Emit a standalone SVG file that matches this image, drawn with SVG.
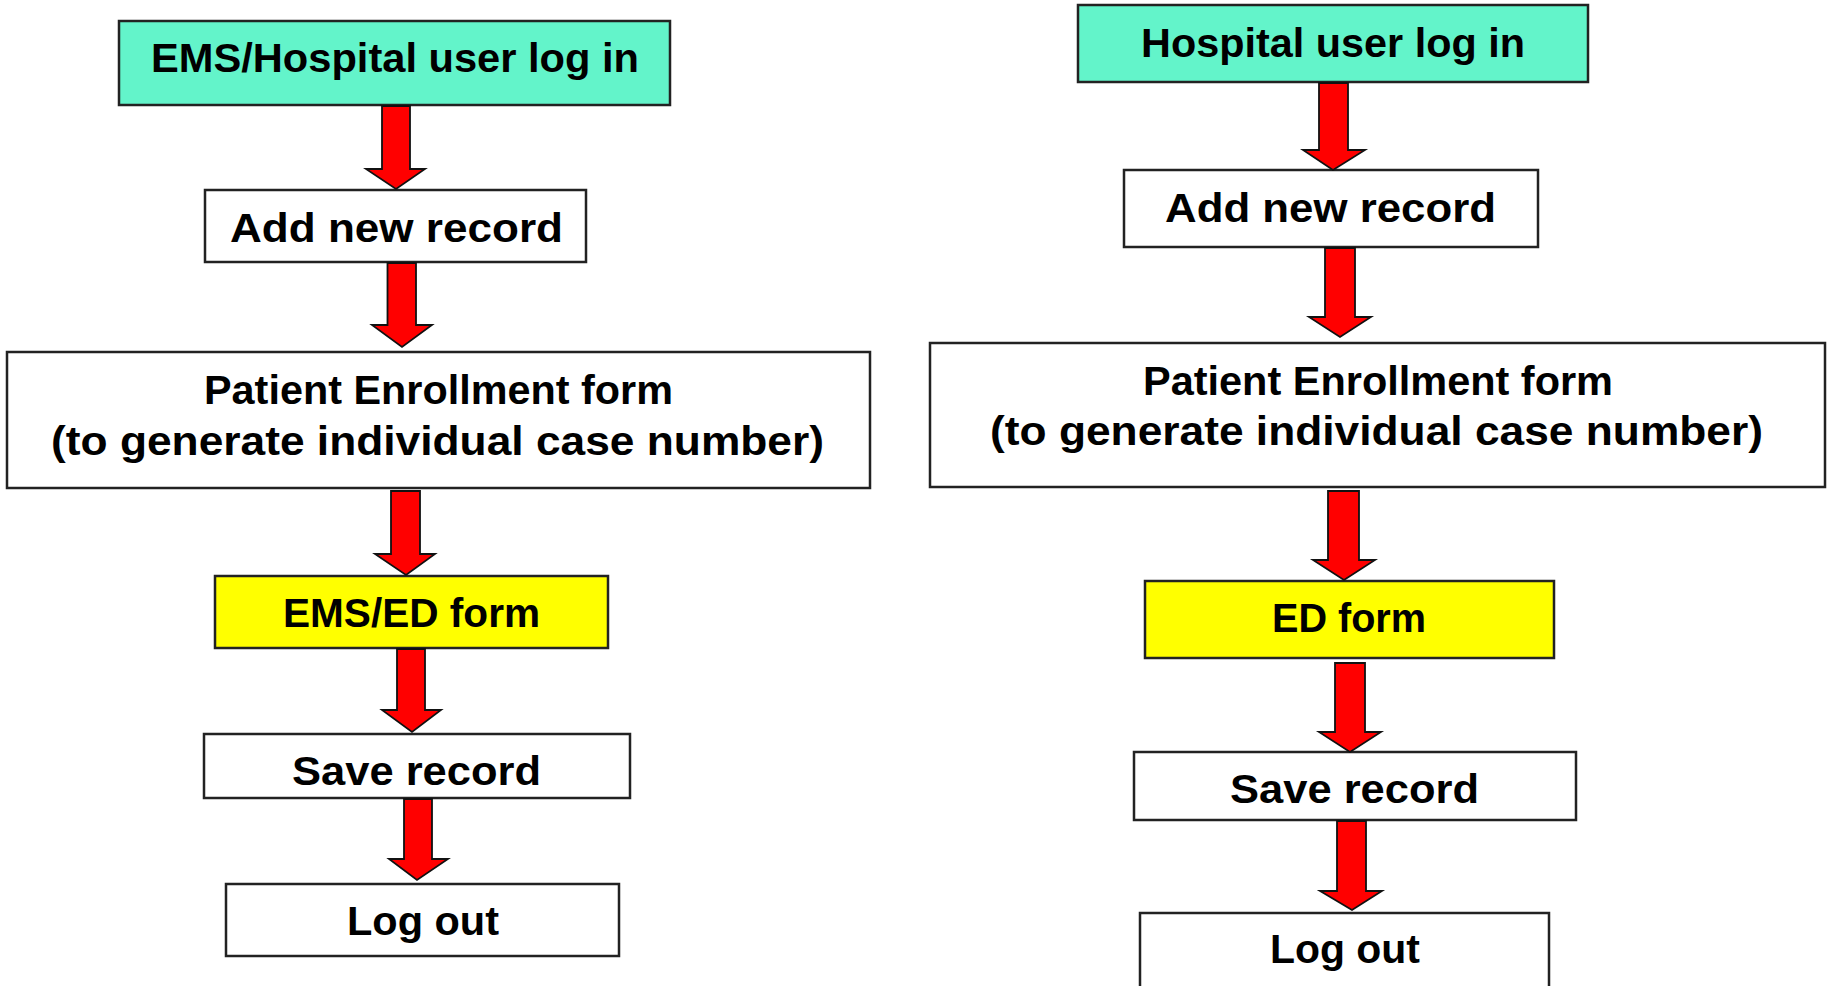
<svg xmlns="http://www.w3.org/2000/svg" width="1827" height="986" viewBox="0 0 1827 986">
  <style>
    .box { stroke: #222; stroke-width: 2.5; }
    .plain { fill: #ffffff; }
    .login { fill: #63f4ca; }
    .form { fill: #ffff00; }
    .label { font-family: "Liberation Sans", Arial, sans-serif; font-weight: bold; font-size: 40px; fill: #000; text-anchor: middle; }
    .arrow { fill: #ff0000; stroke: #111; stroke-width: 1.8; stroke-linejoin: miter; }
  </style>
  <rect width="1827" height="986" fill="#ffffff"/>

  <!-- Left flow: EMS / Hospital -->
  <g id="left-login">
    <rect class="box login" x="119" y="21" width="551" height="84"/>
    <text class="label" x="395" y="72" textLength="488" lengthAdjust="spacingAndGlyphs">EMS/Hospital user log in</text>
  </g>
  <g id="left-add">
    <rect class="box plain" x="205" y="190" width="381" height="72"/>
    <text class="label" x="396.5" y="242" textLength="333" lengthAdjust="spacingAndGlyphs">Add new record</text>
  </g>
  <g id="left-enroll">
    <rect class="box plain" x="7" y="352" width="863" height="136"/>
    <text class="label" x="438.5" y="404" textLength="469" lengthAdjust="spacingAndGlyphs">Patient Enrollment form</text>
    <text class="label" x="437.5" y="455" textLength="773" lengthAdjust="spacingAndGlyphs">(to generate individual case number)</text>
  </g>
  <g id="left-emsed">
    <rect class="box form" x="215" y="576" width="393" height="72"/>
    <text class="label" x="411.5" y="627" textLength="257" lengthAdjust="spacingAndGlyphs">EMS/ED form</text>
  </g>
  <g id="left-save">
    <rect class="box plain" x="204" y="734" width="426" height="64"/>
    <text class="label" x="416.5" y="785" textLength="249" lengthAdjust="spacingAndGlyphs">Save record</text>
  </g>
  <g id="left-logout">
    <rect class="box plain" x="226" y="884" width="393" height="72"/>
    <text class="label" x="423" y="935" textLength="152" lengthAdjust="spacingAndGlyphs">Log out</text>
  </g>

  <!-- Right flow: Hospital -->
  <g id="right-login">
    <rect class="box login" x="1078" y="5" width="510" height="77"/>
    <text class="label" x="1333" y="57" textLength="384" lengthAdjust="spacingAndGlyphs">Hospital user log in</text>
  </g>
  <g id="right-add">
    <rect class="box plain" x="1124" y="170" width="414" height="77"/>
    <text class="label" x="1330.5" y="222" textLength="331" lengthAdjust="spacingAndGlyphs">Add new record</text>
  </g>
  <g id="right-enroll">
    <rect class="box plain" x="930" y="343" width="895" height="144"/>
    <text class="label" x="1378" y="395" textLength="470" lengthAdjust="spacingAndGlyphs">Patient Enrollment form</text>
    <text class="label" x="1376.5" y="445" textLength="773" lengthAdjust="spacingAndGlyphs">(to generate individual case number)</text>
  </g>
  <g id="right-ed">
    <rect class="box form" x="1145" y="581" width="409" height="77"/>
    <text class="label" x="1349" y="632" textLength="154" lengthAdjust="spacingAndGlyphs">ED form</text>
  </g>
  <g id="right-save">
    <rect class="box plain" x="1134" y="752" width="442" height="68"/>
    <text class="label" x="1354.5" y="803" textLength="249" lengthAdjust="spacingAndGlyphs">Save record</text>
  </g>
  <g id="right-logout">
    <rect class="box plain" x="1140" y="913" width="409" height="90"/>
    <text class="label" x="1345" y="963" textLength="150" lengthAdjust="spacingAndGlyphs">Log out</text>
  </g>

  <!-- Block arrows between steps -->
  <g id="connectors">
    <polygon class="arrow" points="382,106 410,106 410,169 425,169 396,189 366,169 382,169"/>
    <polygon class="arrow" points="387.5,263 416,263 416,325 432,325 402,347 372,325 387.5,325"/>
    <polygon class="arrow" points="391,491 420,491 420,554 435,554 406,575 375,554 391,554"/>
    <polygon class="arrow" points="397,649 425,649 425,710 441,710 412,732 382,710 397,710"/>
    <polygon class="arrow" points="404,799 432,799 432,859 448,859 417,880 389,859 404,859"/>

    <polygon class="arrow" points="1319,83 1348,83 1348,150 1365,150 1333,170 1303,150 1319,150"/>
    <polygon class="arrow" points="1325,248 1355,248 1355,317 1371,317 1340,337 1309,317 1325,317"/>
    <polygon class="arrow" points="1328,491 1359,491 1359,560 1375,560 1344,580 1313,560 1328,560"/>
    <polygon class="arrow" points="1335,663 1365,663 1365,732 1381,732 1350,752 1319,732 1335,732"/>
    <polygon class="arrow" points="1337,821 1366,821 1366,891 1382,891 1352,910 1320,891 1337,891"/>
  </g>
</svg>
